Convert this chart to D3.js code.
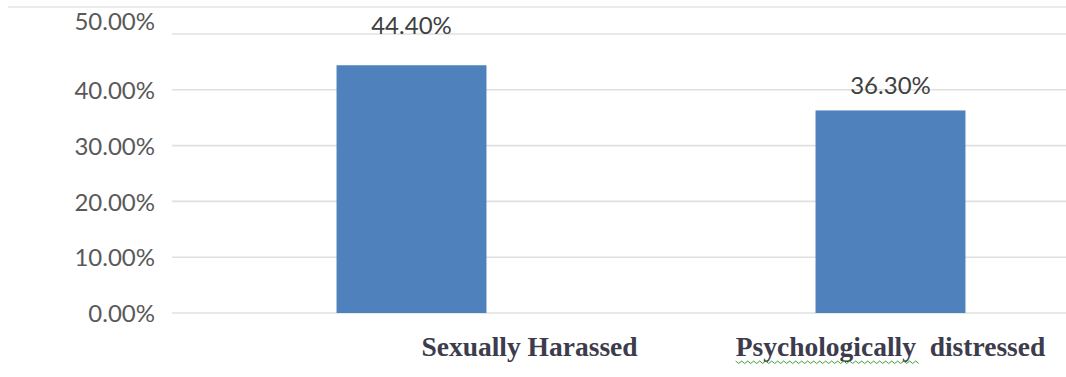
<!DOCTYPE html>
<html><head><meta charset="utf-8">
<script src="https://cdn.jsdelivr.net/npm/d3@7"></script>
<style>html,body{margin:0;padding:0;background:#fff;overflow:hidden}</style>
</head><body>
<svg id="c" width="1066" height="377"></svg>
<script>
const categories = ["Sexually Harassed", "Psychologically  distressed"];
const values = [44.4, 36.3];
const valueLabels = ["44.40%", "36.30%"];
const yTicks = [0, 10, 20, 30, 40, 50];
const yTickLabels = ["0.00%", "10.00%", "20.00%", "30.00%", "40.00%", "50.00%"];

const svg = d3.select("#c");
const W = 1066, H = 377;
const plotLeft = 172, plotRight = 1130;
const x = d3.scaleBand().domain(categories).range([plotLeft, plotRight]).paddingInner(0.687).paddingOuter(0.3435);
const y = d3.scaleLinear().domain([0, 50]).range([313, 34]);

// top border line
svg.append("line").attr("x1", 8).attr("x2", W).attr("y1", 7).attr("y2", 7)
  .attr("stroke", "#ebebeb").attr("stroke-width", 2);

// gridlines
svg.append("g").selectAll("line").data(yTicks).join("line")
  .attr("x1", plotLeft).attr("x2", W)
  .attr("y1", d => y(d)).attr("y2", d => y(d))
  .attr("stroke", "#e0e0e0").attr("stroke-width", 1.6);

// y axis tick labels via d3 axis
const yAxis = d3.axisLeft(y).tickValues(yTicks).tickFormat((d, i) => yTickLabels[i]).tickSize(0).tickPadding(0);
const ga = svg.append("g").attr("transform", "translate(155,0)").call(yAxis);
ga.select(".domain").remove();
ga.selectAll("text").attr("font-family", "Lato, 'Open Sans', sans-serif").attr("font-size", 24)
  .attr("fill", "#595959").attr("dy", "0.36em")
  .filter(d => d === 50).attr("dy", "-0.18em");

// bars
svg.append("g").selectAll("rect").data(values).join("rect")
  .attr("x", (d, i) => x(categories[i])).attr("width", x.bandwidth())
  .attr("y", d => y(d)).attr("height", d => y(0) - y(d))
  .attr("fill", "#4f81bd");

// value labels
svg.append("g").selectAll("text").data(values).join("text")
  .attr("x", (d, i) => x(categories[i]) + x.bandwidth() / 2)
  .attr("y", (d, i) => i === 0 ? y(d) - 31 : y(d) - 16)
  .attr("text-anchor", "middle")
  .attr("font-family", "Lato, 'Open Sans', sans-serif").attr("font-size", 24)
  .attr("fill", "#404040")
  .text((d, i) => valueLabels[i]);

// category labels
const catOffsets = [118, 0];
const cl = svg.append("g").selectAll("text").data(categories).join("text")
  .attr("x", (d, i) => x(d) + x.bandwidth() / 2 + catOffsets[i])
  .attr("y", 356)
  .attr("text-anchor", "middle")
  .attr("font-family", "'Liberation Serif', 'Times New Roman', serif")
  .attr("font-weight", "bold").attr("font-size", 27.5)
  .attr("fill", "#3c3c4c")
  .style("white-space", "pre")
  .text(d => d);

// spell-check squiggle under "Psychologically"
const t2 = cl.filter((d, i) => i === 1).node();
const bb = t2.getBBox();
const nChars = "Psychologically".length;
const wordW = t2.getSubStringLength(0, nChars);
const sx = bb.x, sy = 361;
let p = "M" + sx + "," + sy;
for (let xx = sx, k = 0; xx < sx + wordW; xx += 3, k++) {
  p += "L" + (xx + 3) + "," + (sy + (k % 2 === 0 ? 2.5 : 0));
}
svg.append("path").attr("d", p).attr("fill", "none").attr("stroke", "#3aa03a").attr("stroke-width", 1);
</script>
</body></html>
